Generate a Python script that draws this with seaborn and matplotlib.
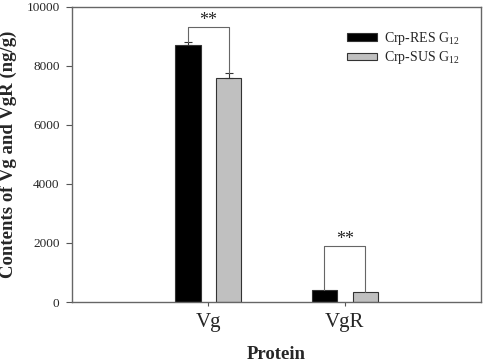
import seaborn as sns
import matplotlib.pyplot as plt
import pandas as pd

proteins = ['Vg', 'VgR']
groups = ['Crp-RES G$_{12}$', 'Crp-SUS G$_{12}$']
res_vals = [8710, 415]
sus_vals = [7580, 330]
res_err = [110, 0]
sus_err = [190, 0]
bracket_y = [9320, 1900]

df = pd.DataFrame({
    'Protein': proteins * 2,
    'Group': [groups[0]] * 2 + [groups[1]] * 2,
    'Value': res_vals + sus_vals,
})

sns.set_style('white')
plt.rcParams['font.family'] = ['Liberation Serif', 'DejaVu Serif']
plt.rcParams['mathtext.fontset'] = 'custom'
plt.rcParams['mathtext.rm'] = 'Liberation Serif'

fig = plt.figure(figsize=(4.84, 3.63), dpi=100)
ax = fig.add_axes([0.149, 0.168, 0.845, 0.813])

sns.barplot(data=df, x='Protein', y='Value', hue='Group', order=proteins,
            hue_order=groups, palette=['black', '#c0c0c0'], width=0.6, gap=0.387,
            errorbar=None, edgecolor='#333333', linewidth=0.8, ax=ax)

# error bars (upper only) and significance brackets
off = 0.15
for i in range(len(proteins)):
    for dx, v, e in [(-off, res_vals[i], res_err[i]), (off, sus_vals[i], sus_err[i])]:
        if e > 0:
            ax.errorbar(i + dx, v, yerr=[[0], [e]], color='#333333', capsize=3,
                        elinewidth=0.8, capthick=0.8)
    y1 = res_vals[i] + res_err[i]
    y2 = sus_vals[i] + sus_err[i]
    by = bracket_y[i]
    ax.plot([i - off, i - off, i + off, i + off], [y1, by, by, y2],
            color='#666666', lw=0.8)
    ax.text(i, by - 60, '**', ha='center', va='bottom', fontsize=13)

ax.set_xlim(-1, 2)
ax.set_ylim(0, 10000)
ax.set_yticks(range(0, 10001, 2000))
ax.tick_params(axis='y', labelsize=9.5, direction='out', length=4, left=True,
               color='#555555', pad=5)
ax.tick_params(axis='x', labelsize=15, direction='out', length=3, bottom=True,
               color='#555555', pad=5)
for s in ax.spines.values():
    s.set_color('#666666')
    s.set_linewidth(1)

ax.set_xlabel('Protein', fontsize=13.5, fontweight='bold')
ax.set_ylabel('Contents of Vg and VgR (ng/g)', fontsize=13.5, fontweight='bold')
ax.xaxis.set_label_coords(0.5, -0.15)
ax.yaxis.set_label_coords(-0.134, 0.5)

leg = ax.legend(loc='upper left', bbox_to_anchor=(0.655, 0.944), frameon=False,
                fontsize=10, handlelength=2.2, handleheight=0.5, labelspacing=0.15,
                handletextpad=0.45, borderpad=0)

fig.savefig('out.png', dpi=100)
